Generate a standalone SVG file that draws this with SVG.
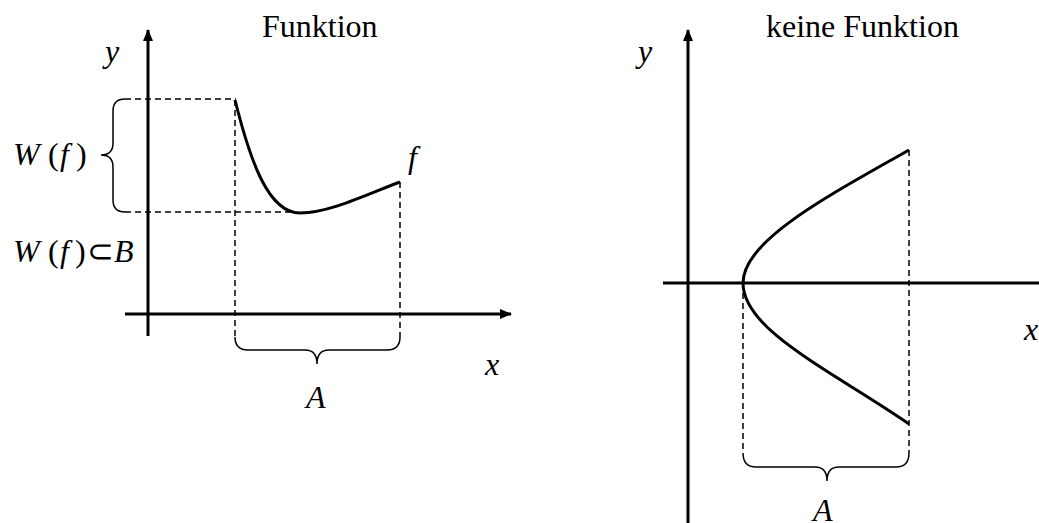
<svg xmlns="http://www.w3.org/2000/svg" width="1039" height="523" viewBox="0 0 1039 523">
<style>
.axis{stroke:#000;stroke-width:3;fill:none}
.curve{stroke:#000;stroke-width:3;fill:none}
.dash{stroke:#000;stroke-width:1.5;fill:none;stroke-dasharray:6,4}
.brace{stroke:#000;stroke-width:1.5;fill:none}
.math{font-style:italic}
.up{font-style:normal}
</style>
<defs>
<marker id="arr" viewBox="0 0 12 10" refX="11" refY="5" markerWidth="12" markerHeight="10" markerUnits="userSpaceOnUse" orient="auto">
<path d="M0,0 L12,5 L0,10 Z" fill="#000"/>
</marker>
</defs>
<rect width="1039" height="523" fill="#fff"/>
<g id="left-plot" font-family="'Liberation Serif', serif" font-size="32">
<text x="262" y="37">Funktion</text>
<line class="axis" x1="148" y1="336" x2="148" y2="30" marker-end="url(#arr)"/>
<line class="axis" x1="125" y1="314" x2="511" y2="314" marker-end="url(#arr)"/>
<path class="dash" d="M125,99 H236 M125,212 H292 M235,100 V337 M400,182 V337"/>
<path class="curve" d="M235,100 C250,160 268,213 300,213 C330,213 370,193 400,182"/>
<path class="brace" d="M125,99 Q113,99 113,111 L113,143 Q113,155 101,155 Q113,155 113,167 L113,200 Q113,212 125,212"/>
<path class="brace" d="M235,337 Q235,350 248,350 L305,350 Q317,350 317,364 Q317,350 329,350 L387,350 Q400,350 400,337"/>
<text class="math" x="105" y="62">y</text>
<text class="math" x="408" y="168">f</text>
<text class="math" x="485" y="375">x</text>
<text class="math" x="306" y="408">A</text>
<text class="math" y="165"><tspan x="13">W</tspan><tspan class="up" x="48">(</tspan><tspan x="60">f</tspan><tspan class="up" x="76">)</tspan></text>
<text class="math" y="262"><tspan x="13">W</tspan><tspan class="up" x="48">(</tspan><tspan x="60">f</tspan><tspan class="up" x="75">)</tspan><tspan class="up" x="87">⊂</tspan><tspan x="114">B</tspan></text>
</g>
<g id="right-plot" font-family="'Liberation Serif', serif" font-size="32">
<text x="766" y="37">keine Funktion</text>
<line class="axis" x1="688" y1="523" x2="688" y2="30" marker-end="url(#arr)"/>
<line class="axis" x1="663" y1="283" x2="1039" y2="283"/>
<path class="dash" d="M743,283 V453 M909,150 V453"/>
<path class="curve" d="M909,150 C830,195 743,240 743,283 C743,330 830,370 909,424"/>
<path class="brace" d="M743,453 Q743,467 756,467 L815,467 Q827,467 827,481 Q827,467 839,467 L896,467 Q909,467 909,453"/>
<text class="math" x="638" y="62">y</text>
<text class="math" x="1024" y="340">x</text>
<text class="math" x="813" y="521">A</text>
</g>
</svg>
